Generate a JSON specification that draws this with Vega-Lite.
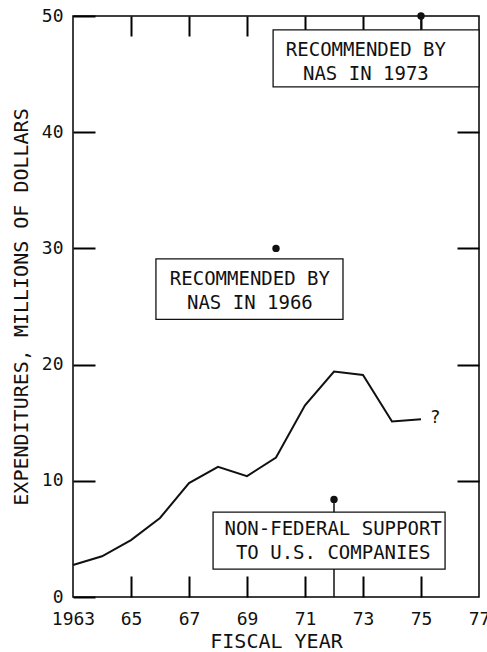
{
  "$schema": "https://vega.github.io/schema/vega-lite/v6.json",
  "width": 406,
  "height": 581,
  "autosize": {"type": "none"},
  "padding": {"left": 73, "top": 16, "right": 8, "bottom": 55},
  "background": "white",
  "config": {
    "view": {"stroke": "#000", "strokeWidth": 1.5},
    "font": "DejaVu Sans Mono",
    "axis": {
      "grid": false,
      "domain": false,
      "zindex": 1,
      "labelFlush": false,
      "tickColor": "#000",
      "tickWidth": 2,
      "tickOpacity": 1,
      "labelColor": "#111",
      "titleColor": "#111",
      "labelFont": "DejaVu Sans Mono",
      "titleFont": "DejaVu Sans Mono",
      "labelFontSize": 18,
      "titleFontSize": 20,
      "titleFontWeight": "normal"
    }
  },
  "datasets": {
    "series": [
      {"year": 1963, "value": 2.75},
      {"year": 1964, "value": 3.5},
      {"year": 1965, "value": 4.9},
      {"year": 1966, "value": 6.8},
      {"year": 1967, "value": 9.8},
      {"year": 1968, "value": 11.2},
      {"year": 1969, "value": 10.4},
      {"year": 1970, "value": 12.0},
      {"year": 1971, "value": 16.5},
      {"year": 1972, "value": 19.4},
      {"year": 1973, "value": 19.1},
      {"year": 1974, "value": 15.1},
      {"year": 1975, "value": 15.3}
    ],
    "boxes": [
      {"x1": 1969.9, "x2": 1977.0, "y1": 48.8, "y2": 43.9},
      {"x1": 1965.86, "x2": 1972.31, "y1": 29.1, "y2": 23.9},
      {"x1": 1967.83, "x2": 1975.83, "y1": 7.3, "y2": 2.4}
    ],
    "notes": [
      {"x": 1973.1, "y": 47.07, "text": ["RECOMMENDED BY", "NAS IN 1973"]},
      {"x": 1969.1, "y": 27.37, "text": ["RECOMMENDED BY", "NAS IN 1966"]},
      {"x": 1971.97, "y": 5.85, "text": ["NON-FEDERAL SUPPORT", "TO U.S. COMPANIES"]}
    ],
    "points": [
      {"x": 1975, "y": 50},
      {"x": 1970, "y": 30},
      {"x": 1972, "y": 8.4}
    ],
    "sticks": [
      {"x": 1975, "y1": 50, "y2": 48.8},
      {"x": 1972, "y1": 0, "y2": 8.4}
    ],
    "qmark": [
      {"x": 1975.3, "y": 15.4, "text": "?"}
    ]
  },
  "layer": [
    {
      "data": {"name": "sticks"},
      "mark": {"type": "rule", "color": "#111", "strokeWidth": 1.5},
      "encoding": {
        "x": {"field": "x", "type": "quantitative", "axis": null, "scale": {"domain": [1963, 1977], "nice": false, "zero": false}},
        "y": {"field": "y1", "type": "quantitative", "axis": null, "scale": {"domain": [0, 50], "nice": false}},
        "y2": {"field": "y2"}
      }
    },
    {
      "data": {"name": "boxes"},
      "mark": {"type": "rect", "fill": "white", "stroke": "#111", "strokeWidth": 1.3},
      "encoding": {
        "x": {"field": "x1", "type": "quantitative", "axis": {"orient": "top", "values": [1965, 1967, 1969, 1971, 1973, 1975], "tickSize": -20, "labels": false, "title": null}},
        "x2": {"field": "x2"},
        "y": {"field": "y1", "type": "quantitative", "axis": {"orient": "right", "values": [10, 20, 30, 40], "tickSize": -22, "labels": false, "title": null}},
        "y2": {"field": "y2"}
      }
    },
    {
      "data": {"name": "series"},
      "mark": {"type": "line", "color": "#111", "strokeWidth": 2},
      "encoding": {
        "x": {"field": "year", "type": "quantitative", "axis": {"orient": "bottom", "values": [1965, 1967, 1969, 1971, 1973, 1975], "tickSize": -21, "labels": false, "title": null}},
        "y": {"field": "value", "type": "quantitative", "axis": {"orient": "left", "values": [0, 10, 20, 30, 40, 50], "tickSize": -22, "labelPadding": 32, "title": "EXPENDITURES, MILLIONS OF DOLLARS", "titlePadding": 10}}
      }
    },
    {
      "data": {"name": "points"},
      "mark": {"type": "point", "filled": true, "color": "#111", "size": 55, "opacity": 1},
      "encoding": {
        "x": {"field": "x", "type": "quantitative", "axis": {"orient": "bottom", "values": [1963, 1965, 1967, 1969, 1971, 1973, 1975, 1977], "ticks": false, "labelPadding": 13, "labelExpr": "datum.value == 1963 ? '1963' : substring(toString(datum.value), 2)", "title": "FISCAL YEAR", "titlePadding": 3}},
        "y": {"field": "y", "type": "quantitative", "axis": null}
      }
    },
    {
      "data": {"name": "notes"},
      "mark": {"type": "text", "font": "DejaVu Sans Mono", "fontSize": 19, "color": "#111", "align": "center", "baseline": "middle", "lineHeight": 24},
      "encoding": {
        "x": {"field": "x", "type": "quantitative", "axis": null},
        "y": {"field": "y", "type": "quantitative", "axis": null},
        "text": {"field": "text"}
      }
    },
    {
      "data": {"name": "qmark"},
      "mark": {"type": "text", "font": "DejaVu Sans Mono", "fontSize": 18, "color": "#111", "align": "left", "baseline": "middle"},
      "encoding": {
        "x": {"field": "x", "type": "quantitative", "axis": null},
        "y": {"field": "y", "type": "quantitative", "axis": null},
        "text": {"field": "text"}
      }
    }
  ],
  "resolve": {"axis": {"x": "independent", "y": "independent"}}
}
